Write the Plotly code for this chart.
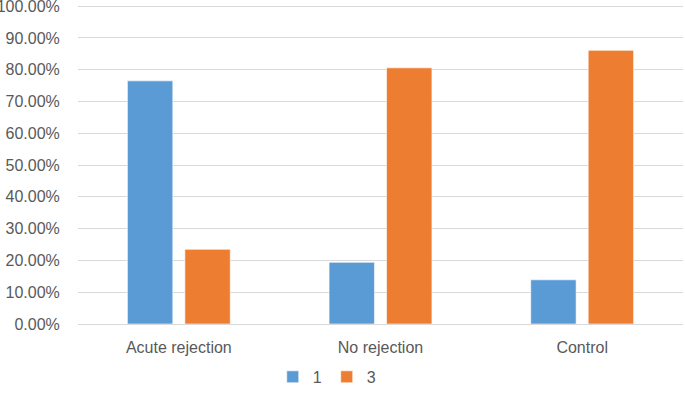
import plotly.graph_objects as go

categories = ["Acute rejection", "No rejection", "Control"]
series_names = ["1", "3"]
values_1 = [0.765, 0.194, 0.139]
values_3 = [0.235, 0.806, 0.861]
y_ticks = [0, 0.1, 0.2, 0.3, 0.4, 0.5, 0.6, 0.7, 0.8, 0.9, 1.0]

colors = ["#5B9BD5", "#ED7D31"]
font_family = "Liberation Sans, Arial, sans-serif"

fig = go.Figure()
for name, vals, col in zip(series_names, [values_1, values_3], colors):
    fig.add_trace(go.Bar(
        x=categories, y=vals, name=name,
        marker=dict(color=col, line=dict(color="rgba(255,255,255,0.6)", width=1)),
    ))

fig.update_layout(
    width=685, height=393,
    margin=dict(l=78, r=2, t=3, b=69, autoexpand=False),
    paper_bgcolor="white", plot_bgcolor="white",
    barmode="group", bargap=0.43, bargroupgap=0.21,
    font=dict(family=font_family, size=16, color="#595959"),
    showlegend=True,
    legend=dict(orientation="h", xref="container", x=0.477, xanchor="center",
                yref="container", y=0.041, yanchor="middle",
                font=dict(size=16, color="#595959"), itemwidth=30,
                traceorder="normal"),
    xaxis=dict(showgrid=False, showline=True, linecolor="#D9D9D9", linewidth=1,
               ticks="outside", ticklen=9, tickcolor="rgba(0,0,0,0)",
               tickfont=dict(size=16, color="#595959")),
    yaxis=dict(range=[0, 1.01], tickvals=y_ticks, tickformat=".2%",
               showgrid=True, gridcolor="#D9D9D9", gridwidth=1,
               zeroline=False, showline=False,
               ticks="outside", ticklen=14, tickcolor="rgba(0,0,0,0)",
               ticklabeloverflow="allow",
               tickfont=dict(size=16, color="#595959")),
)

fig.write_html("out.html", config={"displayModeBar": False},
               post_script="document.body.style.margin='0';")
